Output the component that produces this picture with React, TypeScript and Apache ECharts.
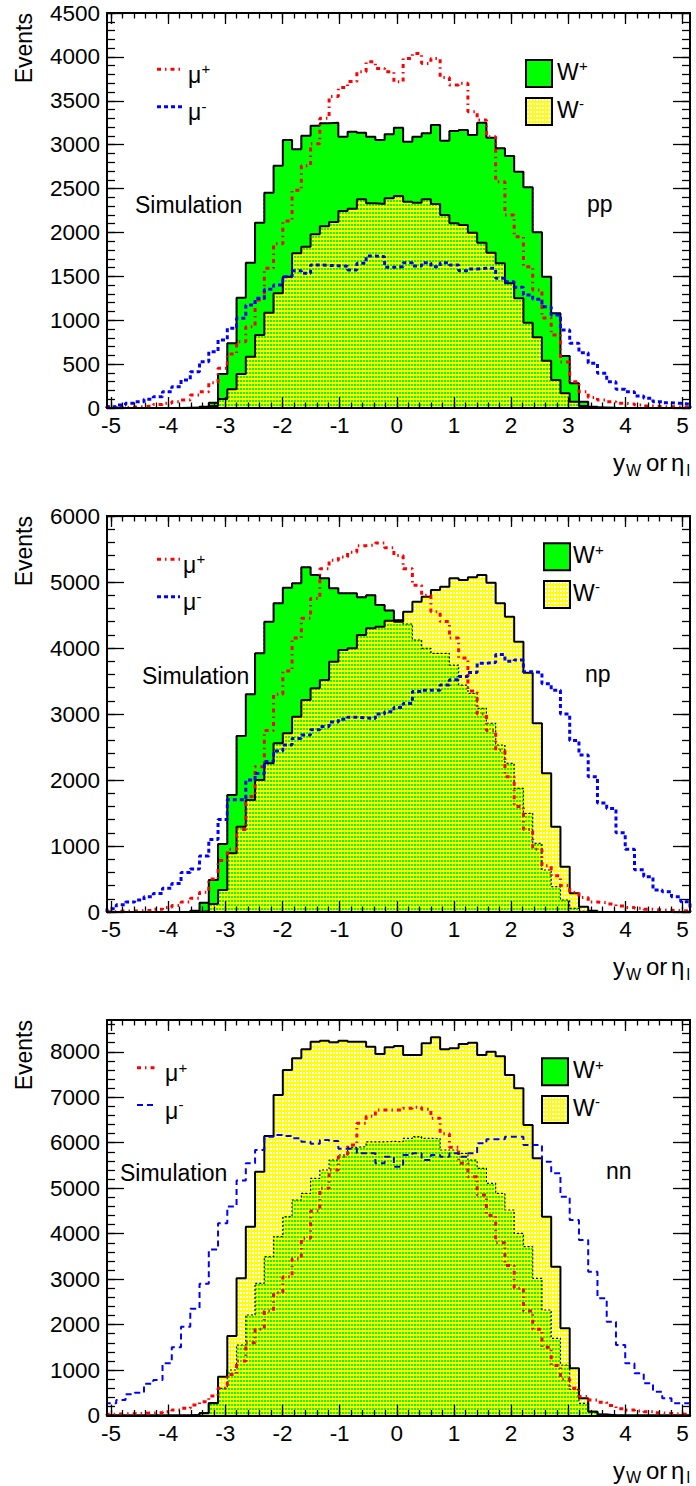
import React, { useEffect, useRef } from "react";
import * as echarts from "echarts";

const FONT = '"Liberation Sans", Arial, Helvetica, sans-serif';

// histogram range (frame) and tick labels
const BIN_LO = -5.07;
const BIN_HI = 5.13;
const X_TICKS = [-5, -4, -3, -2, -1, 0, 1, 2, 3, 4, 5];
const PP_Y_TICKS = [0, 500, 1000, 1500, 2000, 2500, 3000, 3500, 4000, 4500];
const NP_Y_TICKS = [0, 1000, 2000, 3000, 4000, 5000, 6000];
const NN_Y_TICKS = [0, 1000, 2000, 3000, 4000, 5000, 6000, 7000, 8000];

// ---- pp ----
const PP_WPLUS = [0,0,0,0,0,0,0,0,3,5,
15,60,387,737,1257,1655,2111,2453,2760,3053,
2947,3102,3216,3243,3250,3091,3148,3136,3091,3053,
3118,3194,3034,3091,3129,3224,3045,3156,3167,3110,
3250,3080,2958,2871,2692,2514,2001,1496,1079,592,
281,72,15,5,2,0,0,0,0,0,
0,0,0];
const PP_WMINUS = [0,0,0,0,0,0,0,0,0,3,
5,23,103,213,387,585,832,1086,1306,1496,
1762,1838,1980,2070,2120,2245,2270,2377,2332,2324,
2389,2415,2350,2339,2377,2324,2199,2104,2085,1997,
1883,1770,1648,1420,1249,972,805,539,319,167,
72,23,5,0,0,0,0,0,0,0,
0,0,0];
const PP_MUPLUS = [10,5,10,15,23,40,53,72,91,148,
186,288,452,615,755,926,1230,1591,1870,2130,
2480,2760,3010,3300,3550,3650,3720,3831,3945,3869,
3831,3717,3983,4040,3926,3983,3766,3680,3699,3376,
3281,3091,2578,2200,1950,1610,1344,1025,832,524,
300,186,121,91,72,53,45,34,23,15,
15,10,10];
const PP_MUMINUS = [15,34,53,72,99,129,186,243,319,414,
528,642,775,908,1022,1173,1249,1352,1401,1496,
1564,1534,1629,1625,1620,1615,1572,1648,1732,1724,
1603,1610,1655,1618,1655,1610,1655,1629,1564,1583,
1591,1591,1477,1439,1375,1287,1238,1154,1059,889,
737,630,509,395,300,213,186,137,110,72,
61,53,45];

// ---- np ----
const NP_WPLUS = [0,0,0,0,0,0,0,0,5,20,
141,485,1030,1773,2667,3298,3919,4399,4677,4914,
4980,5222,5106,5056,4904,4828,4830,4770,4800,4650,
4570,4420,4364,4121,3995,3919,3919,3742,3439,3313,
3086,2859,2530,2253,1874,1495,1040,636,384,182,
56,10,0,0,0,0,0,0,0,0,
0,0,0];
const NP_WMINUS = [0,0,0,0,0,0,0,0,0,0,
10,120,333,889,1293,1697,2000,2253,2556,2707,
2960,3212,3389,3515,3793,3970,3995,4197,4298,4323,
4414,4399,4551,4702,4778,4879,4929,5056,5030,5071,
5106,4990,4677,4475,4096,3626,2859,2101,1293,687,
283,81,20,0,0,0,0,0,0,0,
0,0,0];
const NP_MUPLUS = [5,15,15,20,25,40,70,100,150,210,
300,500,780,950,1250,1750,2200,2750,3300,3650,
4150,4450,4750,5200,5330,5380,5450,5550,5560,5590,
5520,5400,5200,4950,4800,4550,4400,4150,3850,3350,
3000,2750,2450,2050,1600,1250,950,700,550,400,
300,220,150,140,120,90,70,55,40,30,
25,20,15];
const NP_MUMINUS = [50,110,150,180,230,280,360,430,600,650,
850,1100,1400,1700,1700,2000,2100,2280,2440,2530,
2630,2680,2760,2810,2880,2920,2950,2940,2930,3000,
3035,3100,3160,3340,3360,3360,3440,3520,3570,3630,
3770,3780,3900,3800,3820,3640,3630,3460,3360,3000,
2600,2380,2050,1650,1570,1200,950,640,535,335,
308,232,156];

// ---- nn ----
const NN_WPLUS = [0,0,0,0,0,0,0,0,3,10,
48,268,598,1001,1551,2211,2908,3493,3933,4373,
4740,4887,5217,5400,5620,5730,5900,5913,6020,6020,
6030,6023,6096,6133,6096,6090,5840,5840,5767,5620,
5437,5107,4887,4520,4008,3713,3018,2321,1698,1111,
576,268,84,20,5,0,0,0,0,0,
0,0,0];
const NN_WMINUS = [0,0,0,0,0,0,0,0,0,10,
48,268,854,1749,3018,4153,5363,6148,7050,7600,
7857,8055,8223,8245,8209,8245,8220,8223,8113,7952,
8099,8128,7930,7930,8187,8319,8055,8077,8172,8201,
7930,8003,7900,7490,7197,6390,5658,4373,3274,1918,
1038,378,84,15,0,0,0,0,0,0,
0,0,0];
const NN_MUPLUS = [30,35,40,48,55,62,84,120,158,231,
304,430,600,900,1200,1600,1900,2300,2700,3050,
3450,3900,4500,5000,5400,5700,5950,6430,6580,6720,
6720,6720,6760,6780,6735,6540,6200,5900,5550,5250,
4850,4400,3800,3300,2800,2300,1900,1500,1100,800,
600,420,340,290,220,150,120,100,84,60,
45,33,25];
const NN_MUMINUS = [270,340,470,500,700,780,1150,1500,1950,2350,
2900,3650,4230,4600,5170,5550,5840,6130,6170,6150,
6100,6020,5980,6060,6040,5870,5870,5767,5767,5547,
5693,5473,5730,5767,5620,5730,5693,5767,5693,5767,
5987,6075,6075,6133,6133,5950,5950,5583,5327,4813,
4300,3861,3164,2578,2064,1551,1148,928,708,524,
378,268,268];

const GREEN = "#00ff00";
const YELLOW = "#ffff00";
const RED = "#ff0000";
const BLUE = "#0000ff";

const PANELS = [
  {
    top: 13, height: 395, yMax: 4500, yTicks: PP_Y_TICKS, yMinorStep: 100, tag: "pp",
    wp: PP_WPLUS, wm: PP_WMINUS, mp: PP_MUPLUS, mm: PP_MUMINUS,
    muLine: [157, 183], muY: [69.3, 106.7], muX: 188,
    simX: 135, simY: 205, boxX: 526, boxY: [60, 98], wX: 557, tagX: 587, tagY: 204,
    blueW: 3, blueDash: [4, 3],
  },
  {
    top: 516, height: 396, yMax: 6000, yTicks: NP_Y_TICKS, yMinorStep: 200, tag: "np",
    wp: NP_WPLUS, wm: NP_WMINUS, mp: NP_MUPLUS, mm: NP_MUMINUS,
    muLine: [157, 180], muY: [559.3, 596.7], muX: 183,
    simX: 142, simY: 676, boxX: 544, boxY: [543.3, 581], wX: 573, tagX: 585, tagY: 674,
    blueW: 3, blueDash: [4, 3],
  },
  {
    top: 1020, height: 395.5, yMax: 8700, yTicks: NN_Y_TICKS, yMinorStep: 200, tag: "nn",
    wp: NN_WPLUS, wm: NN_WMINUS, mp: NN_MUPLUS, mm: NN_MUMINUS,
    muLine: [137, 156], muY: [1067.7, 1105], muX: 165,
    simX: 120, simY: 1173, boxX: 542, boxY: [1058.3, 1096], wX: 573, tagX: 606, tagY: 1171,
    blueW: 2, blueDash: [6, 4],
  },
];

const GRID_LEFT = 107;
const GRID_WIDTH = 583;

function minorList(lo: number, hi: number, step: number) {
  const out: number[] = [];
  for (let v = lo; v <= hi + 1e-9; v += step) out.push(Math.round(v * 1000) / 1000);
  return out;
}

function histPoints(vals: number[]) {
  const n = vals.length;
  const w = (BIN_HI - BIN_LO) / n;
  const pts: number[][] = [[BIN_LO, 0]];
  for (let i = 0; i < n; i++) pts.push([BIN_LO + i * w, vals[i]]);
  pts.push([BIN_HI, vals[n - 1]]);
  pts.push([BIN_HI, 0]);
  return pts;
}

// vector hatch: small "holes" in the colour of what lies below the yellow fill
function holeDecal(color: string) {
  return {
    symbol: "rect",
    symbolSize: 1,
    symbolKeepAspect: false,
    color,
    backgroundColor: null,
    dashArrayX: [2, 1],
    dashArrayY: [2, 2],
    rotation: 0,
  };
}

function txt(x: number, baseline: number, text: string, fs: number, align = "left") {
  return {
    type: "text",
    x,
    y: baseline - 0.3465 * fs,
    silent: true,
    z: 100,
    style: { text, fill: "#000", fontSize: fs, fontFamily: FONT, align, verticalAlign: "middle" },
  };
}

function legendPatternBox(x: number, y: number) {
  const children: any[] = [
    { type: "rect", shape: { x, y, width: 26, height: 27 }, style: { fill: YELLOW } },
  ];
  for (let yy = 0; yy + 3 <= 27; yy += 4) {
    for (let xx = 0; xx + 3 <= 26; xx += 3) {
      children.push({
        type: "rect",
        shape: { x: Math.round(x) + xx + 1, y: Math.round(y) + yy + 1, width: 2, height: 2 },
        style: { fill: "#ffffff" },
      });
    }
  }
  children.push({ type: "rect", shape: { x, y, width: 26, height: 27 }, style: { fill: "none", stroke: "#000", lineWidth: 2 } });
  return { type: "group", silent: true, z: 100, children };
}

function buildOption() {
  const decWhite = holeDecal("#ffffff");
  const decGreen = holeDecal(GREEN);
  const X_MINOR = minorList(-5, 5, 0.2);
  const grids: any[] = [];
  const xAxes: any[] = [];
  const yAxes: any[] = [];
  const series: any[] = [];
  const graphics: any[] = [];
  const axLine = { color: "#000", width: 2 };
  const tkLine = { color: "#000", width: 1.3 };

  PANELS.forEach((p, gi) => {
    grids.push({ left: GRID_LEFT, top: p.top, width: GRID_WIDTH, height: p.height, show: false });
    const xc = { type: "value", gridIndex: gi, min: BIN_LO, max: BIN_HI, splitLine: { show: false }, z: 10, silent: true };
    xAxes.push(
      {
        ...xc, position: "bottom",
        axisLine: { show: true, onZero: false, lineStyle: axLine },
        axisTick: { show: true, inside: true, length: 11, customValues: X_TICKS, lineStyle: tkLine },
        axisLabel: {
          show: true, customValues: X_TICKS, margin: 6, fontSize: 22.5, color: "#000", fontFamily: FONT,
          formatter: (v: number) => String(v),
        },
      },
      {
        ...xc, position: "bottom",
        axisLine: { show: false, onZero: false },
        axisTick: { show: true, inside: true, length: 5.5, customValues: X_MINOR, lineStyle: tkLine },
        axisLabel: { show: false },
      },
      {
        ...xc, position: "top",
        axisLine: { show: true, onZero: false, lineStyle: axLine },
        axisTick: { show: true, inside: true, length: 11, customValues: X_TICKS, lineStyle: tkLine },
        axisLabel: { show: false },
      },
      {
        ...xc, position: "top",
        axisLine: { show: false, onZero: false },
        axisTick: { show: true, inside: true, length: 5.5, customValues: X_MINOR, lineStyle: tkLine },
        axisLabel: { show: false },
      }
    );
    const yMinor = minorList(0, p.yMax, p.yMinorStep);
    const yc = { type: "value", gridIndex: gi, min: 0, max: p.yMax, splitLine: { show: false }, z: 10, silent: true };
    yAxes.push(
      {
        ...yc, position: "left",
        axisLine: { show: true, onZero: false, lineStyle: axLine },
        axisTick: { show: true, inside: true, length: 17, customValues: p.yTicks, lineStyle: tkLine },
        axisLabel: {
          show: true, customValues: p.yTicks, margin: 7, fontSize: 22.5, color: "#000", fontFamily: FONT,
          formatter: (v: number) => String(v),
        },
      },
      {
        ...yc, position: "left",
        axisLine: { show: false, onZero: false },
        axisTick: { show: true, inside: true, length: 8, customValues: yMinor, lineStyle: tkLine },
        axisLabel: { show: false },
      },
      {
        ...yc, position: "right",
        axisLine: { show: true, onZero: false, lineStyle: axLine },
        axisTick: { show: true, inside: true, length: 17, customValues: p.yTicks, lineStyle: tkLine },
        axisLabel: { show: false },
      },
      {
        ...yc, position: "right",
        axisLine: { show: false, onZero: false },
        axisTick: { show: true, inside: true, length: 8, customValues: yMinor, lineStyle: tkLine },
        axisLabel: { show: false },
      }
    );

    const base = {
      type: "line", xAxisIndex: gi * 4, yAxisIndex: gi * 4, step: "end", symbol: "none",
      showSymbol: false, silent: true, animation: false,
    };
    const overlap = p.wp.map((v: number, i: number) => Math.min(v, p.wm[i]));
    series.push(
      { ...base, name: "W+ " + p.tag, data: histPoints(p.wp), z: 2,
        lineStyle: { color: "#000", width: 2 }, areaStyle: { color: GREEN, opacity: 1 } },
      { ...base, name: "W- " + p.tag, data: histPoints(p.wm), z: 3,
        itemStyle: { color: YELLOW, decal: decWhite },
        lineStyle: { width: 0, opacity: 0, decal: decWhite },
        areaStyle: { color: YELLOW, opacity: 1 } },
      { ...base, name: "W- over W+ " + p.tag, data: histPoints(overlap), z: 3,
        itemStyle: { color: YELLOW, decal: decGreen },
        lineStyle: { width: 0, opacity: 0, decal: decGreen },
        areaStyle: { color: YELLOW, opacity: 1 } },
      { ...base, name: "W+ edge " + p.tag, data: histPoints(p.wp), z: 3,
        lineStyle: { color: "#000", width: 1.2, type: [2, 2] } },
      { ...base, name: "W- edge " + p.tag, data: histPoints(p.wm), z: 3,
        lineStyle: { color: "#000", width: 2 } },
      { ...base, name: "mu+ " + p.tag, data: histPoints(p.mp), z: 4,
        lineStyle: { color: RED, width: 3, type: [4, 4, 1.5, 4] } },
      { ...base, name: "mu- " + p.tag, data: histPoints(p.mm), z: 5,
        lineStyle: { color: BLUE, width: p.blueW, type: p.blueDash } }
    );

    graphics.push({
      type: "text", x: 24, y: p.top, rotation: Math.PI / 2, silent: true,
      style: { text: "Events", fill: "#000", fontSize: 23, fontFamily: FONT, align: "right", verticalAlign: "middle" },
    });
    const xb = p.top + p.height + 63;
    graphics.push(
      txt(613, xb, "y", 24),
      txt(626, xb + 5, "W", 16),
      txt(646, xb, "or", 24),
      txt(671, xb, "η", 24),
      txt(686.5, xb + 5, "l", 16)
    );
    graphics.push(
      { type: "line", silent: true, z: 100, shape: { x1: p.muLine[0], y1: p.muY[0], x2: p.muLine[1], y2: p.muY[0] },
        style: { stroke: RED, lineWidth: 3, lineDash: [4, 4, 1.5, 4] } },
      { type: "line", silent: true, z: 100, shape: { x1: p.muLine[0], y1: p.muY[1], x2: p.muLine[1], y2: p.muY[1] },
        style: { stroke: BLUE, lineWidth: p.blueW, lineDash: p.blueDash } },
      txt(p.muX, p.muY[0] + 13.7, "μ", 23),
      txt(p.muX + 13.5, p.muY[0] + 13.7 - 9, "+", 15),
      txt(p.muX, p.muY[1] + 13.7, "μ", 23),
      txt(p.muX + 13.5, p.muY[1] + 13.7 - 9, "-", 15)
    );
    graphics.push(
      { type: "rect", silent: true, z: 100, shape: { x: p.boxX, y: p.boxY[0], width: 26, height: 27 },
        style: { fill: GREEN, stroke: "#000", lineWidth: 2 } },
      legendPatternBox(p.boxX, p.boxY[1]),
      txt(p.wX, p.boxY[0] + 20, "W", 23),
      txt(p.wX + 22, p.boxY[0] + 20 - 9, "+", 15),
      txt(p.wX, p.boxY[1] + 20, "W", 23),
      txt(p.wX + 22, p.boxY[1] + 20 - 9, "-", 15)
    );
    graphics.push(
      { type: "text", x: p.simX, y: p.simY, silent: true, z: 100,
        style: { text: "Simulation", fill: "#000", fontSize: 23, fontFamily: FONT, align: "left", verticalAlign: "middle" } },
      { type: "text", x: p.tagX, y: p.tagY, silent: true, z: 100,
        style: { text: p.tag, fill: "#000", fontSize: 23, fontFamily: FONT, align: "left", verticalAlign: "middle" } }
    );
  });

  return {
    animation: false,
    backgroundColor: "#fff",
    textStyle: { fontFamily: FONT },
    grid: grids,
    xAxis: xAxes,
    yAxis: yAxes,
    series,
    graphic: { elements: graphics },
  };
}

export default function App() {
  const ref = useRef<HTMLDivElement>(null);
  useEffect(() => {
    if (!ref.current) return;
    const chart = echarts.init(ref.current, undefined, { renderer: "svg", width: 696, height: 1486 });
    chart.setOption(buildOption() as any);
    return () => chart.dispose();
  }, []);
  return (
    <div
      ref={ref}
      style={{ position: "absolute", left: 0, top: 0, width: 696, height: 1486, background: "#fff" }}
    />
  );
}
